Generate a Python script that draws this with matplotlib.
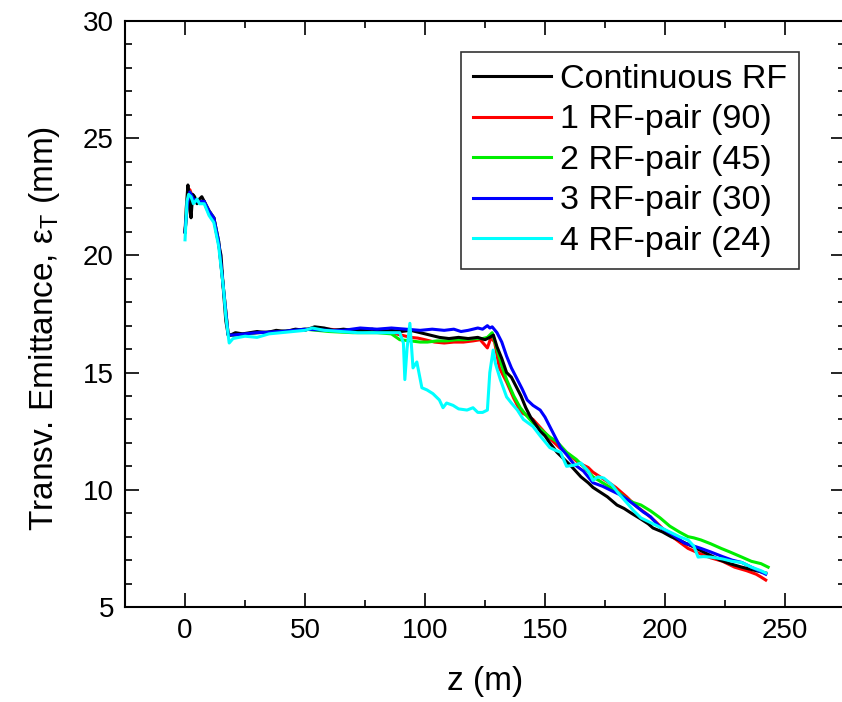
import numpy as np
import matplotlib
matplotlib.use("Agg")
import matplotlib.pyplot as plt

plt.rcParams['font.family'] = ['Liberation Sans', 'DejaVu Sans']
plt.rcParams['mathtext.fontset'] = 'custom'
plt.rcParams['mathtext.rm'] = 'Liberation Sans'
plt.rcParams['mathtext.it'] = 'Liberation Sans:italic'

# Continuous RF
z_cont = [0, 0.5, 1.2, 1.8, 2.5, 3.2, 4, 5, 6, 7, 8, 9, 10, 11, 12, 13, 14, 15, 16, 17, 18,
          19, 21, 24, 27, 30, 34, 38, 42, 46, 50, 54, 58, 62, 66, 70, 74, 78, 82, 86, 90, 94,
          98, 102, 106, 110, 114, 118, 122, 125, 127, 128.5, 130, 132, 134, 136, 138, 140, 142,
          144, 146, 148, 150, 152, 155, 158, 161, 165, 168, 170, 173, 176, 180, 183, 186, 190,
          193, 195, 199, 202.5, 206, 209, 212, 216, 220, 223, 227, 232, 236, 240, 242]
e_cont = [21.0, 22.0, 23.0, 22.3, 21.6, 22.6, 22.5, 22.2, 22.4, 22.5, 22.3, 22.0, 21.8, 21.7,
          21.6, 21.0, 20.5, 20.0, 18.5, 17.2, 16.6, 16.6, 16.7, 16.65, 16.7, 16.75, 16.7, 16.8,
          16.75, 16.85, 16.8, 16.95, 16.9, 16.8, 16.85, 16.8, 16.8, 16.85, 16.75, 16.8, 16.75,
          16.8, 16.7, 16.6, 16.5, 16.45, 16.5, 16.45, 16.5, 16.4, 16.5, 16.6, 16.1, 15.6, 15.0,
          14.8, 14.4, 14.0, 13.5, 13.1, 12.8, 12.5, 12.3, 12.0, 11.6, 11.3, 11.0, 10.55, 10.3,
          10.1, 9.9, 9.7, 9.35, 9.2, 9.0, 8.75, 8.55, 8.37, 8.2, 8.0, 7.85, 7.7, 7.56, 7.35,
          7.15, 7.0, 6.85, 6.7, 6.6, 6.5, 6.45]

# 1 RF-pair (90)
z_rf1 = [0, 1, 2, 3.5, 5, 8, 10, 12, 14, 16, 18, 20, 25, 30, 40, 50, 60, 70, 80, 86, 90, 94,
         97, 100, 104, 108, 112, 116, 120, 123, 126, 127.5, 129, 131, 134, 137, 140, 142, 145,
         149, 152, 156, 160, 164, 168, 170, 173, 176, 179.5, 184, 188, 192, 196, 201, 205,
         209.6, 214, 219, 224, 229, 234, 238, 240, 242]
e_rf1 = [21.0, 22.2, 22.8, 22.4, 22.3, 22.3, 21.9, 21.6, 20.6, 18.6, 16.6, 16.6, 16.65, 16.7,
         16.75, 16.85, 16.85, 16.75, 16.75, 16.7, 16.6, 16.5, 16.47, 16.4, 16.3, 16.26, 16.3,
         16.3, 16.35, 16.4, 16.05, 16.5, 16.3, 15.2, 14.6, 13.9, 13.3, 13.2, 13.0, 12.55, 12.2,
         11.8, 11.5, 11.15, 10.95, 10.75, 10.55, 10.35, 10.1, 9.7, 9.3, 9.0, 8.65, 8.15, 7.85,
         7.5, 7.3, 7.1, 6.95, 6.7, 6.55, 6.4, 6.28, 6.15]

# 2 RF-pair (45)
z_rf2 = [0, 1, 2, 3.5, 5, 8, 10, 12, 14, 16, 18, 20, 25, 30, 40, 50, 60, 70, 80, 86, 89.5,
         94, 98, 101, 105, 109, 113, 117, 121, 124, 126, 128, 130, 132, 134, 137, 139.7, 142,
         145, 148, 152, 155, 159, 163, 166, 170, 174, 178, 181, 184.5, 187, 190, 194, 198, 202,
         206, 209.6, 212, 215, 219, 223.4, 227, 232, 236, 240, 243]
e_rf2 = [21.0, 22.2, 22.7, 22.4, 22.3, 22.3, 21.9, 21.6, 20.6, 18.6, 16.6, 16.6, 16.65, 16.7,
         16.75, 16.85, 16.75, 16.7, 16.7, 16.65, 16.4, 16.35, 16.3, 16.3, 16.35, 16.35, 16.4,
         16.4, 16.45, 16.45, 16.5, 16.7, 16.0, 15.3, 14.7, 14.0, 13.5, 13.2, 12.85, 12.6, 12.25,
         12.05, 11.6, 11.3, 11.0, 10.55, 10.3, 10.05, 9.85, 9.57, 9.45, 9.35, 9.1, 8.8, 8.45,
         8.2, 8.0, 7.95, 7.86, 7.7, 7.5, 7.35, 7.13, 6.95, 6.85, 6.7]

# 3 RF-pair (30)
z_rf3 = [0, 1, 2, 3.5, 5, 8, 10, 12, 14, 16, 18, 20, 25, 30, 40, 50, 60, 66, 73, 80, 86, 92,
         98, 103, 108, 112, 115, 118, 122, 124, 126, 127, 128, 130, 132, 134, 136, 138.5, 140.5,
         142.6, 145, 148, 150, 152, 154, 156.5, 159, 162, 166, 170, 174, 178, 181, 184.5, 188,
         191, 194, 198, 203, 208, 212, 215, 219, 224, 228, 232, 236, 240, 242]
e_rf3 = [21.0, 22.2, 22.7, 22.4, 22.3, 22.3, 21.9, 21.6, 20.6, 18.6, 16.6, 16.6, 16.65, 16.7,
         16.75, 16.85, 16.8, 16.8, 16.9, 16.85, 16.9, 16.85, 16.8, 16.85, 16.8, 16.85, 16.75,
         16.8, 16.9, 16.85, 17.0, 16.9, 16.95, 16.7, 16.3, 15.7, 15.2, 14.7, 14.3, 13.83, 13.6,
         13.4, 13.1, 12.7, 12.3, 11.8, 11.5, 11.1, 10.8, 10.3, 10.15, 9.95, 9.8, 9.57, 9.3,
         9.05, 8.85, 8.4, 8.1, 7.73, 7.6, 7.5, 7.35, 7.15, 7.0, 6.9, 6.7, 6.5, 6.4]

# 4 RF-pair (24)
z_rf4 = [0, 0.8, 1.5, 2.5, 3.5, 5, 6, 8, 10, 12, 14, 16, 17, 18.4, 20, 25, 30, 35, 40, 45, 50,
         53, 58, 65, 72, 80, 86, 89.5, 91, 91.6, 92.5, 93.7, 95, 96.6, 98.7, 100.8, 103.3, 106,
         107.5, 109, 111.7, 114, 117.5, 120, 122, 124, 126, 127, 128.4, 129.3, 131.4, 134, 136,
         138.5, 141, 145, 148, 152, 154, 156.5, 159, 162, 165, 168, 170, 172, 174.5, 178, 181,
         184.5, 187, 190, 194, 198, 203, 206, 209.6, 212, 213.8, 216, 219, 224, 228, 232, 236,
         240, 242]
e_rf4 = [20.66, 22.3, 22.6, 22.5, 22.2, 22.4, 22.2, 22.2, 21.7, 21.4, 20.4, 18.6, 17.4, 16.26,
         16.45, 16.55, 16.5, 16.65, 16.7, 16.75, 16.8, 16.9, 16.8, 16.75, 16.7, 16.7, 16.7, 16.7,
         16.26, 14.7, 16.0, 17.1, 15.2, 15.45, 14.35, 14.26, 14.1, 13.83, 13.5, 13.7, 13.6,
         13.45, 13.4, 13.5, 13.3, 13.3, 13.4, 15.0, 15.96, 15.4, 14.7, 13.96, 13.7, 13.4, 13.0,
         12.7, 12.3, 11.8, 11.7, 11.6, 11.0, 11.05, 11.14, 10.8, 10.4, 10.55, 10.5, 10.2, 9.8,
         9.4, 9.1, 8.8, 8.6, 8.4, 8.15, 8.0, 7.86, 7.6, 7.13, 7.15, 7.13, 7.05, 6.95, 6.9, 6.7,
         6.55, 6.45]

labels = ["Continuous RF", "1 RF-pair (90)", "2 RF-pair (45)", "3 RF-pair (30)", "4 RF-pair (24)"]
colors = ["#000000", "#ff0000", "#00ee00", "#0000ff", "#00ffff"]

fig = plt.figure(figsize=(8.42, 7.02), dpi=100)
ax = fig.add_axes([0.1485, 0.1353, 0.855, 0.835])

series = [(z_cont, e_cont), (z_rf1, e_rf1), (z_rf2, e_rf2), (z_rf3, e_rf3), (z_rf4, e_rf4)]
# cyan ends up on top, like in the picture
order = [1, 2, 0, 3, 4]
lines = {}
for i in order:
    z, e = series[i]
    lines[i], = ax.plot(z, e, color=colors[i], lw=2.2, label=labels[i])

ax.set_xlim(-25, 275)
ax.set_ylim(5, 30)
ax.set_xticks([0, 50, 100, 150, 200, 250])
ax.set_yticks([5, 10, 15, 20, 25, 30])
ax.set_xticks(np.arange(-25, 276, 25), minor=True)
ax.set_yticks(np.arange(5, 31, 1), minor=True)
ax.tick_params(which='both', direction='in', top=True, right=True, labelsize=20, width=1.2)
ax.tick_params(which='major', length=10, pad=8)
ax.tick_params(which='minor', length=5)
for s in ax.spines.values():
    s.set_linewidth(1.5)

ax.set_xlabel("z (m)", fontsize=24, labelpad=16)
ax.set_ylabel(r"Transv. Emittance, ε$_\mathrm{T}$ (mm)", fontsize=24)
ax.yaxis.set_label_coords(-0.088, 0.475)

leg = ax.legend([lines[i] for i in range(5)], labels, loc='upper right',
                bbox_to_anchor=(799 / 842, 1 - 52 / 702), bbox_transform=fig.transFigure,
                fontsize=24.5, frameon=True, fancybox=False, edgecolor='black',
                handlelength=2.3, handletextpad=0.25, labelspacing=0.28, borderpad=0.35,
                borderaxespad=0)
leg.get_frame().set_linewidth(1.2)

fig.savefig("out.png", dpi=100)
